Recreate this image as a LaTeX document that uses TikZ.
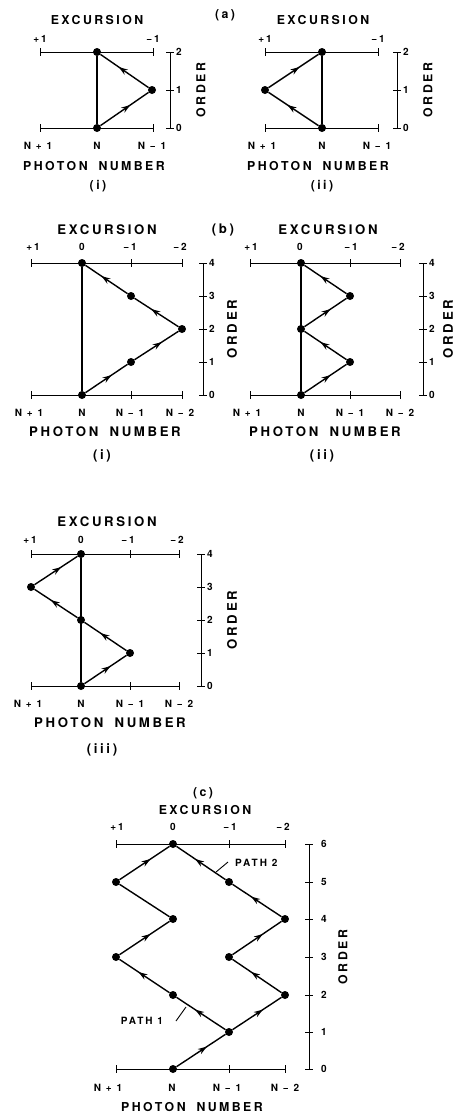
\documentclass[tikz,border=0pt]{standalone}
\usepackage{fontspec}
\setmainfont{TeX Gyre Heros}[LetterSpace=20]
\usetikzlibrary{decorations.markings,arrows.meta}
\tikzset{
 axl/.style={line width=1.0pt},
 ln/.style={line width=1.4pt},
 dot/.style={circle,fill=black,inner sep=0pt,minimum size=8pt},
 arr/.style={postaction={decorate},decoration={markings,mark=at position 0.62 with {\arrow{Stealth[length=9pt,width=6pt]}}}},
 bigA/.style={font=\bfseries\fontsize{12.3}{14}\selectfont,inner sep=0pt},
 bigB/.style={font=\bfseries\fontsize{13.2}{15}\selectfont,inner sep=0pt},
 smallt/.style={font=\bfseries\fontsize{10}{12}\selectfont,inner sep=0pt},
}
\newcommand{\pnum}{PHOTON\hspace{5pt} NUMBER}
\newcommand{\hax}[5]{%
 \coordinate (#1L) at (#3,#2); \coordinate (#1R) at (#4,#2);
 \draw[axl] (#1L) -- (#1R);
 \foreach \t in {#5} {\draw[axl] (\t,#2) ++(0,-4) -- ++(0,8);}
}
\newcommand{\vax}[6]{%
 \coordinate (#1T) at (#2,#3); \coordinate (#1B) at (#2,#4);
 \draw[axl] (#1T) -- (#1B);
 \foreach \yy/\ll in {#5} {\draw[axl] (#2,\yy) ++(-4,0) -- ++(8,0);
   \node[smallt,anchor=west] (#1n\ll) at (#6,\yy) {\ll};}
}
\begin{document}
\begin{tikzpicture}[x=1pt,y=-1pt]
\useasboundingbox (0,0) rectangle (455,1114);
% ---------- (a)
\node[bigA] (lab-a) at (225,15) {(a)};
% (a)(i)
\node[bigA] (ai-exc) at (97,20) {EXCURSION};
\node[smallt] (ai-p1) at (40,39) {+1};
\node[smallt] (ai-m1) at (153,39) {−1};
\hax{aiT}{52}{40}{153}{40,153}
\hax{aiB}{128}{40}{153}{40,153}
\node[dot] (ai0) at (97,128) {};
\node[dot] (ai1) at (152,90) {};
\node[dot] (ai2) at (97,52) {};
\draw[ln] (ai0) -- (ai2);
\draw[ln,arr] (ai0) -- (ai1);
\draw[ln,arr] (ai1) -- (ai2);
\vax{aiO}{170}{52}{128}{52/2,90/1,128/0}{176}
\node[bigA,rotate=90] (ai-ord) at (201,90) {ORDER};
\node[smallt] (ai-n1) at (38,146) {N + 1};
\node[smallt] (ai-n0) at (97,146) {N};
\node[smallt] (ai-nm1) at (152,146) {N − 1};
\node[bigA] (ai-pn) at (94,166) {\pnum};
\node[bigA] (ai-lab) at (98,186) {(i)};
% (a)(ii)
\node[bigA] (aii-exc) at (323,20) {EXCURSION};
\node[smallt] (aii-p1) at (265,39) {+1};
\node[smallt] (aii-m1) at (378,39) {−1};
\hax{aiiT}{52}{265}{378}{265,378}
\hax{aiiB}{128}{265}{378}{265,378}
\node[dot] (aii0) at (322,128) {};
\node[dot] (aii1) at (265,90) {};
\node[dot] (aii2) at (322,52) {};
\draw[ln] (aii0) -- (aii2);
\draw[ln,arr] (aii0) -- (aii1);
\draw[ln,arr] (aii1) -- (aii2);
\vax{aiiO}{397}{52}{128}{52/2,90/1,128/0}{403}
\node[bigA,rotate=90] (aii-ord) at (428,90) {ORDER};
\node[smallt] (aii-n1) at (262,146) {N + 1};
\node[smallt] (aii-n0) at (322,146) {N};
\node[smallt] (aii-nm1) at (377,146) {N − 1};
\node[bigA] (aii-pn) at (318,166) {\pnum};
\node[bigA] (aii-lab) at (322,186) {(ii)};
% ---------- (b)
\node[bigB] (lab-b) at (223,230) {(b)};
% (b)(i)
\node[bigB] (bi-exc) at (107,230) {EXCURSION};
\node[smallt] (bi-p1) at (33,247) {+1};
\node[smallt] (bi-z) at (82,247) {0};
\node[smallt] (bi-m1) at (130,247) {−1};
\node[smallt] (bi-m2) at (180,247) {−2};
\hax{biT}{263}{31}{182}{31,131,182}
\hax{biB}{395}{31}{182}{31,131,182}
\node[dot] (bi0) at (82,395) {};
\node[dot] (bi1) at (131,362) {};
\node[dot] (bi2) at (182,329) {};
\node[dot] (bi3) at (131,296) {};
\node[dot] (bi4) at (82,263) {};
\draw[ln] (bi0) -- (bi4);
\draw[ln,arr] (bi0) -- (bi1);
\draw[ln,arr] (bi1) -- (bi2);
\draw[ln,arr] (bi2) -- (bi3);
\draw[ln,arr] (bi3) -- (bi4);
\vax{biO}{203}{263}{395}{263/4,296/3,329/2,362/1,395/0}{209}
\node[bigB,rotate=90] (bi-ord) at (232,329) {ORDER};
\node[smallt] (bi-n1) at (29,413) {N + 1};
\node[smallt] (bi-n0) at (82,413) {N};
\node[smallt] (bi-nm1) at (130,413) {N − 1};
\node[smallt] (bi-nm2) at (180,413) {N − 2};
\node[bigB] (bi-pn) at (105,432) {\pnum};
\node[bigB] (bi-lab) at (102,456) {(i)};
% (b)(ii)
\node[bigB] (bii-exc) at (328,230) {EXCURSION};
\node[smallt] (bii-p1) at (251,247) {+1};
\node[smallt] (bii-z) at (300,247) {0};
\node[smallt] (bii-m1) at (351,247) {−1};
\node[smallt] (bii-m2) at (398,247) {−2};
\hax{biiT}{263}{250}{400}{250,350,400}
\hax{biiB}{395}{250}{400}{250,350,400}
\node[dot] (bii0) at (301,395) {};
\node[dot] (bii1) at (350,362) {};
\node[dot] (bii2) at (301,329) {};
\node[dot] (bii3) at (350,296) {};
\node[dot] (bii4) at (301,263) {};
\draw[ln] (bii0) -- (bii4);
\draw[ln,arr] (bii0) -- (bii1);
\draw[ln,arr] (bii1) -- (bii2);
\draw[ln,arr] (bii2) -- (bii3);
\draw[ln,arr] (bii3) -- (bii4);
\vax{biiO}{423}{263}{395}{263/4,296/3,329/2,362/1,395/0}{429}
\node[bigB,rotate=90] (bii-ord) at (448,329) {ORDER};
\node[smallt] (bii-n1) at (247,413) {N + 1};
\node[smallt] (bii-n0) at (301,413) {N};
\node[smallt] (bii-nm1) at (350,413) {N − 1};
\node[smallt] (bii-nm2) at (400,413) {N − 2};
\node[bigB] (bii-pn) at (325,432) {\pnum};
\node[bigB] (bii-lab) at (322,456) {(ii)};
% (b)(iii)
\node[bigB] (biii-exc) at (107,522) {EXCURSION};
\node[smallt] (biii-p1) at (30,540) {+1};
\node[smallt] (biii-z) at (81,540) {0};
\node[smallt] (biii-m1) at (128,540) {−1};
\node[smallt] (biii-m2) at (177,540) {−2};
\hax{biiiT}{554}{31}{179}{31,130,179}
\hax{biiiB}{686}{31}{179}{31,130,179}
\node[dot] (biii0) at (81,686) {};
\node[dot] (biii1) at (130,653) {};
\node[dot] (biii2) at (81,620) {};
\node[dot] (biii3) at (31,587) {};
\node[dot] (biii4) at (81,554) {};
\draw[ln] (biii0) -- (biii4);
\draw[ln,arr] (biii0) -- (biii1);
\draw[ln,arr] (biii1) -- (biii2);
\draw[ln,arr] (biii2) -- (biii3);
\draw[ln,arr] (biii3) -- (biii4);
\vax{biiiO}{201}{554}{686}{554/4,587/3,620/2,653/1,686/0}{207}
\node[bigB,rotate=90] (biii-ord) at (232,620) {ORDER};
\node[smallt] (biii-n1) at (28,704) {N + 1};
\node[smallt] (biii-n0) at (81,704) {N};
\node[smallt] (biii-nm1) at (130,704) {N − 1};
\node[smallt] (biii-nm2) at (179,704) {N − 2};
\node[bigB] (biii-pn) at (110,723) {\pnum};
\node[bigB] (biii-lab) at (102,750) {(iii)};
% ---------- (c)
\node[bigA] (lab-c) at (203,793) {(c)};
\node[bigA] (c-exc) at (205,810) {EXCURSION};
\node[smallt] (c-p1) at (117,827) {+1};
\node[smallt] (c-z) at (173,827) {0};
\node[smallt] (c-m1) at (230,827) {−1};
\node[smallt] (c-m2) at (283,827) {−2};
\hax{cT}{844}{116}{285}{116,229,285}
\hax{cB}{1069}{116}{285}{116,229,285}
\node[dot] (c0) at (173,1069) {};
\node[dot] (c1) at (229,1032) {};
\node[dot] (c2a) at (173,995) {};
\node[dot] (c2b) at (285,995) {};
\node[dot] (c3a) at (116,957) {};
\node[dot] (c3b) at (229,957) {};
\node[dot] (c4a) at (173,919) {};
\node[dot] (c4b) at (285,919) {};
\node[dot] (c5a) at (116,882) {};
\node[dot] (c5b) at (229,882) {};
\node[dot] (c6) at (173,844) {};
\draw[ln,arr] (c0) -- (c1);
\draw[ln,arr] (c1) -- (c2a);
\draw[ln,arr] (c2a) -- (c3a);
\draw[ln,arr] (c3a) -- (c4a);
\draw[ln] (c4a) -- (c5a);
\draw[ln,arr] (c5a) -- (c6);
\draw[ln,arr] (c1) -- (c2b);
\draw[ln,arr] (c2b) -- (c3b);
\draw[ln,arr] (c3b) -- (c4b);
\draw[ln,arr] (c4b) -- (c5b);
\draw[ln,arr] (c5b) -- (c6);
\vax{cO}{309}{844}{1069}{844/6,882/5,919/4,957/3,995/2,1032/1,1069/0}{321}
\node[bigA,rotate=90] (c-ord) at (343,957) {ORDER};
\node[smallt,anchor=west] (c-path2) at (235,863) {PATH 2};
\coordinate (c-p2a) at (228,862);
\coordinate (c-p2b) at (216,872);
\draw[line width=0.9pt] (c-p2a) -- (c-p2b);
\node[smallt] (c-path1) at (142,1021) {PATH 1};
\coordinate (c-p1a) at (176,1021);
\coordinate (c-p1b) at (186,1007);
\draw[line width=0.9pt] (c-p1a) -- (c-p1b);
\node[smallt] (c-n1) at (108,1088) {N + 1};
\node[smallt] (c-n0) at (172,1088) {N};
\node[smallt] (c-nm1) at (227,1088) {N − 1};
\node[smallt] (c-nm2) at (285,1088) {N − 2};
\node[bigA] (c-pn) at (192,1107) {\pnum};
\end{tikzpicture}
\end{document}
